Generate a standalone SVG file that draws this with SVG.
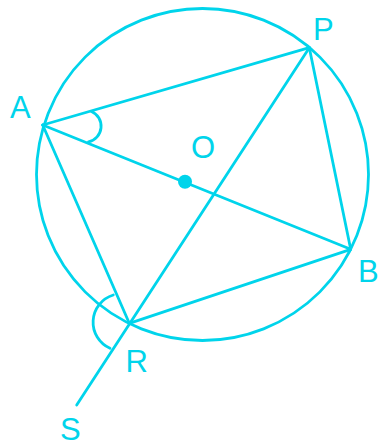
<svg xmlns="http://www.w3.org/2000/svg" width="380" height="448" viewBox="0 0 380 448">
  <style>
    .ln { stroke: #00D4EB; stroke-width: 2.8; fill: none; stroke-linecap: round; }
    .lbl { fill: #00D4EB; font-family: "Liberation Sans", Arial, sans-serif; font-size: 31px; }
  </style>
  <rect width="380" height="448" fill="#ffffff"/>
  <g id="circle">
    <circle class="ln" cx="202.5" cy="174.5" r="166"/>
  </g>
  <g id="connectors">
    <line class="ln" x1="42.7" y1="125" x2="309.3" y2="47.7"/>
    <line class="ln" x1="42.7" y1="125" x2="350.7" y2="249.3"/>
    <line class="ln" x1="42.7" y1="125" x2="129.3" y2="323.3"/>
    <line class="ln" x1="309.3" y1="47.7" x2="350.7" y2="249.3"/>
    <line class="ln" x1="129.3" y1="323.3" x2="350.7" y2="249.3"/>
    <line class="ln" x1="309.3" y1="47.7" x2="76.7" y2="405"/>
    <path class="ln" d="M91.5,111.5 A16,16 0 0 1 88.5,141.8"/>
    <path class="ln" d="M113.3,295 A28.5,28.5 0 0 0 110,348.3"/>
  </g>
  <g id="O">
    <circle cx="185" cy="181.8" r="7" fill="#00D4EB"/>
    <text class="lbl" x="191" y="158">O</text>
  </g>
  <g id="A"><text class="lbl" x="10" y="118">A</text></g>
  <g id="P"><text class="lbl" x="313" y="40">P</text></g>
  <g id="B"><text class="lbl" x="358" y="282">B</text></g>
  <g id="R"><text class="lbl" x="125.5" y="372">R</text></g>
  <g id="S"><text class="lbl" x="60" y="440">S</text></g>
</svg>
